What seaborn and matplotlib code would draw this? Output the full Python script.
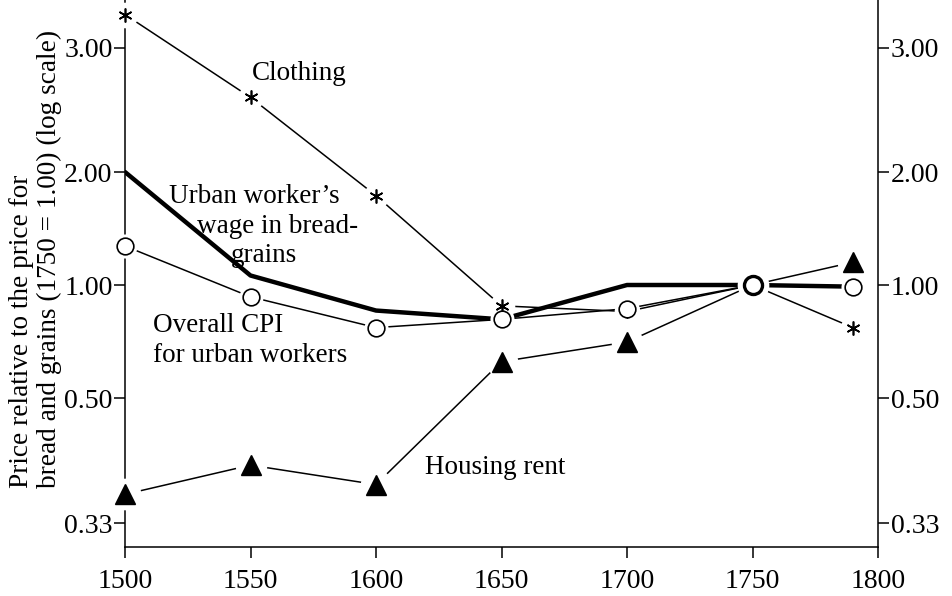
import numpy as np
import pandas as pd
import matplotlib
matplotlib.use('Agg')
import matplotlib.pyplot as plt
import seaborn as sns

# datos (1750 = 1.00)
years = [1500, 1550, 1600, 1650, 1700, 1750, 1790]
clothing = [3.34, 2.55, 1.73, 0.88, 0.85, 1.00, 0.77]
wage = [2.00, 1.06, 0.855, 0.81, 1.00, 1.00, 0.99]
cpi = [1.27, 0.93, 0.77, 0.81, 0.865, 1.00, 0.99]
housing = [0.363, 0.40, 0.375, 0.625, 0.705, 1.00, 1.15]

tick_vals = [0.33, 0.50, 1.00, 2.00, 3.00]
tick_labels = ['0.33', '0.50', '1.00', '2.00', '3.00']
x_ticks = [1500, 1550, 1600, 1650, 1700, 1750, 1800]

# la escala "log" del original tiene los ticks casi equiespaciados
tick_pos = np.array([0.0, 1.25, 2.38, 3.51, 4.755])
log_t = np.log(tick_vals)
slope_lo = (tick_pos[1] - tick_pos[0]) / (log_t[1] - log_t[0])
slope_hi = (tick_pos[-1] - tick_pos[-2]) / (log_t[-1] - log_t[-2])


def fwd(v):
    lv = np.log(np.clip(np.asarray(v, dtype=float), 1e-6, None))
    out = np.interp(lv, log_t, tick_pos)
    out = np.where(lv > log_t[-1], tick_pos[-1] + (lv - log_t[-1]) * slope_hi, out)
    out = np.where(lv < log_t[0], tick_pos[0] + (lv - log_t[0]) * slope_lo, out)
    return out


def inv(p):
    p = np.asarray(p, dtype=float)
    lv = np.interp(p, tick_pos, log_t)
    lv = np.where(p > tick_pos[-1], log_t[-1] + (p - tick_pos[-1]) / slope_hi, lv)
    lv = np.where(p < tick_pos[0], log_t[0] + (p - tick_pos[0]) / slope_lo, lv)
    return np.exp(lv)


sns.set_theme(style="ticks")
plt.rcParams['font.family'] = ['Liberation Serif', 'DejaVu Serif']
plt.rcParams.update({'axes.linewidth': 1.1, 'text.color': 'black',
                     'axes.labelcolor': 'black', 'axes.edgecolor': 'black',
                     'xtick.color': 'black', 'ytick.color': 'black'})

fig = plt.figure(figsize=(9.52, 5.96), dpi=100)
ax = fig.add_axes([0.1313, 0.0822, 0.7910, 0.9178])

df = pd.DataFrame({'year': years, 'clothing': clothing, 'wage': wage,
                   'cpi': cpi, 'housing': housing})

# lineas
for col, lw in [('clothing', 1.1), ('cpi', 1.1), ('housing', 1.1), ('wage', 3.2)]:
    sns.lineplot(data=df, x='year', y=col, color='black', linewidth=lw,
                 ax=ax, zorder=2, legend=False)

# halos blancos alrededor de los marcadores (cortan las lineas)
for col, s in [('clothing', 340), ('cpi', 300), ('housing', 520)]:
    sns.scatterplot(data=df, x='year', y=col, color='white', s=s, linewidth=0,
                    ax=ax, zorder=2.7, clip_on=False, legend=False)

idx = [0, 1, 2, 3, 4, 6]
ax.plot(df['year'], df['clothing'], linestyle='none', marker=(6, 2, 0),
        markersize=10, markeredgewidth=1.2, color='black', markevery=idx,
        zorder=3, clip_on=False)
ax.plot(df['year'], df['housing'], linestyle='none', marker='^',
        markersize=15, color='black', markevery=idx, zorder=3, clip_on=False)
ax.plot(df['year'], df['cpi'], linestyle='none', marker='o', markersize=12,
        markerfacecolor='white', markeredgecolor='black', markeredgewidth=1.2,
        markevery=idx, zorder=3.1, clip_on=False)
ax.plot(df['year'], df['cpi'], linestyle='none', marker='o', markersize=13,
        markerfacecolor='white', markeredgecolor='black', markeredgewidth=2.4,
        markevery=[5], zorder=3.1, clip_on=False)

ax.set_yscale('function', functions=(fwd, inv))
ax.set_ylim(inv(-0.24), inv(5.23))
ax.set_xlim(1500, 1800)
ax.set_yticks(tick_vals)
ax.set_yticklabels(tick_labels)
ax.yaxis.set_minor_locator(matplotlib.ticker.NullLocator())
ax.set_xticks(x_ticks)
ax.set_xticklabels([str(x) for x in x_ticks])

ax.spines['top'].set_visible(False)
ax.tick_params(axis='y', which='major', left=True, right=True, labelleft=True,
               labelright=True, direction='out', length=8, width=1.1,
               pad=1, labelsize=20)
ax.tick_params(axis='x', which='major', direction='out', length=8, width=1.1,
               pad=8, labelsize=20)

ax.set_xlabel('')
ax.set_ylabel('Price relative to the price for\nbread and grains (1750 = 1.00) (log scale)',
              fontsize=19.6, multialignment='left', linespacing=1.2)
ax.yaxis.set_label_coords(-0.083, 0.527)

tf = ax.transAxes
ax.text(0.231, 0.866, 'Clothing', transform=tf, fontsize=19.5, ha='center', va='center')
ax.text(0.172, 0.640, 'Urban worker\u2019s', transform=tf, fontsize=19.5, ha='center', va='center')
ax.text(0.202, 0.586, 'wage in bread-', transform=tf, fontsize=19.5, ha='center', va='center')
ax.text(0.185, 0.533, 'grains', transform=tf, fontsize=19.5, ha='center', va='center')
ax.text(0.037, 0.377, 'Overall CPI\nfor urban workers', transform=tf, fontsize=19.5,
        ha='left', va='center', linespacing=1.25)
ax.text(0.399, 0.146, 'Housing rent', transform=tf, fontsize=19.5, ha='left', va='center')

plt.savefig('out.png', dpi=100)
plt.close()
